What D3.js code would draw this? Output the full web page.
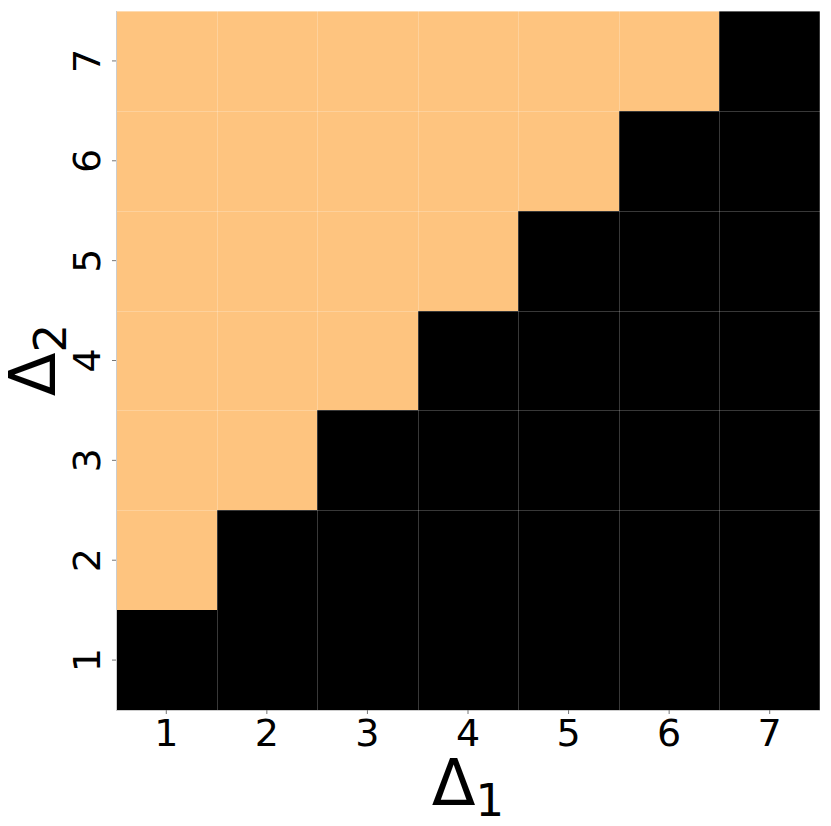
<!DOCTYPE html>
<html>
<head>
<meta charset="utf-8">
<script src="https://cdn.jsdelivr.net/npm/d3@7"></script>
<style>
  html, body { margin: 0; padding: 0; background: #fff; }
  svg { display: block; font-family: "DejaVu Sans", sans-serif; }
</style>
</head>
<body>
<svg id="chart" width="831" height="826"></svg>
<script>
// Categories
const delta1 = [1, 2, 3, 4, 5, 6, 7];
const delta2 = [1, 2, 3, 4, 5, 6, 7];
// Cell states per Δ2 row (index by Δ1): 1 = black region, 0 = orange region
const row1 = [1, 1, 1, 1, 1, 1, 1];
const row2 = [0, 1, 1, 1, 1, 1, 1];
const row3 = [0, 0, 1, 1, 1, 1, 1];
const row4 = [0, 0, 0, 1, 1, 1, 1];
const row5 = [0, 0, 0, 0, 1, 1, 1];
const row6 = [0, 0, 0, 0, 0, 1, 1];
const row7 = [0, 0, 0, 0, 0, 0, 1];
const rows = [row1, row2, row3, row4, row5, row6, row7];
const tickLabels = ["1", "2", "3", "4", "5", "6", "7"];

const cells = [];
rows.forEach((r, i) => r.forEach((v, j) => cells.push({ d1: delta1[j], d2: delta2[i], v })));

const FONT = "'DejaVu Sans', sans-serif";
const svg = d3.select("#chart");

const x = d3.scaleBand().domain(delta1).range([116, 820]).padding(0);
const y = d3.scaleBand().domain(delta2).range([710, 11]).padding(0);
const color = d3.scaleOrdinal().domain([0, 1]).range(["#fec47f", "#000000"]);

const g = svg.append("g");

g.selectAll("rect.cell").data(cells).join("rect")
  .attr("class", "cell")
  .attr("x", d => x(d.d1))
  .attr("y", d => y(d.d2))
  .attr("width", x.bandwidth())
  .attr("height", y.bandwidth())
  .attr("fill", d => color(d.v))
  .attr("shape-rendering", "crispEdges");

// grid lines at cell boundaries
const xEdges = delta1.map(d => x(d)).concat([x.range()[1]]);
const yEdges = delta2.map(d => y(d)).concat([y(delta2[0]) + y.bandwidth()]);
g.selectAll("line.gx").data(xEdges.slice(1, -1)).join("line")
  .attr("x1", d => Math.round(d) + 0.5).attr("x2", d => Math.round(d) + 0.5)
  .attr("y1", 11).attr("y2", 710)
  .attr("stroke", "rgba(255,255,255,0.22)").attr("stroke-width", 1);
g.selectAll("line.gy").data(yEdges.slice(1, -1)).join("line")
  .attr("y1", d => Math.round(d) + 0.5).attr("y2", d => Math.round(d) + 0.5)
  .attr("x1", 116).attr("x2", 820)
  .attr("stroke", "rgba(255,255,255,0.22)").attr("stroke-width", 1);
// top and right edges
g.append("line").attr("x1", 116).attr("x2", 820).attr("y1", 11.5).attr("y2", 11.5)
  .attr("stroke", "rgba(255,255,255,0.22)");
g.append("line").attr("x1", 819.5).attr("x2", 819.5).attr("y1", 11).attr("y2", 710)
  .attr("stroke", "rgba(255,255,255,0.22)");

// axes
const xAxis = d3.axisBottom(x).tickSize(4).tickPadding(4).tickFormat((d, i) => tickLabels[i]);
const yAxis = d3.axisLeft(y).tickSize(4).tickPadding(4).tickFormat((d, i) => tickLabels[i]);

const gx = svg.append("g").attr("transform", "translate(0,710)").call(xAxis)
  .attr("font-family", FONT).attr("font-size", 38);
gx.select(".domain").attr("stroke", "#cccccc").attr("d", "M116,0.5H820");
gx.selectAll(".tick line").attr("stroke", "#777");
gx.selectAll(".tick text")
  .attr("fill", "#000")
  .attr("dy", null).attr("y", 36);

const gy = svg.append("g").attr("transform", "translate(116,0)").call(yAxis)
  .attr("font-family", FONT).attr("font-size", 38);
gy.select(".domain").attr("stroke", "#cccccc").attr("d", "M0.5,11V710");
gy.selectAll(".tick line").attr("stroke", "#777");
gy.selectAll(".tick text")
  .attr("fill", "#000")
  .attr("x", null).attr("dy", null)
  .attr("text-anchor", "middle")
  .attr("transform", "translate(-16,0) rotate(-90)");

// axis labels
const xl = svg.append("text")
  .attr("x", 468).attr("y", 805)
  .attr("text-anchor", "middle")
  .attr("font-family", FONT)
  .attr("font-size", 64).attr("fill", "#000");
xl.append("tspan").text("Δ");
xl.append("tspan").attr("font-size", 45).attr("dy", 11).text("1");

const yl = svg.append("text")
  .attr("transform", "translate(55,360) rotate(-90)")
  .attr("text-anchor", "middle")
  .attr("font-family", FONT)
  .attr("font-size", 64).attr("fill", "#000");
yl.append("tspan").text("Δ");
yl.append("tspan").attr("font-size", 45).attr("dy", 11).text("2");
</script>
</body>
</html>
